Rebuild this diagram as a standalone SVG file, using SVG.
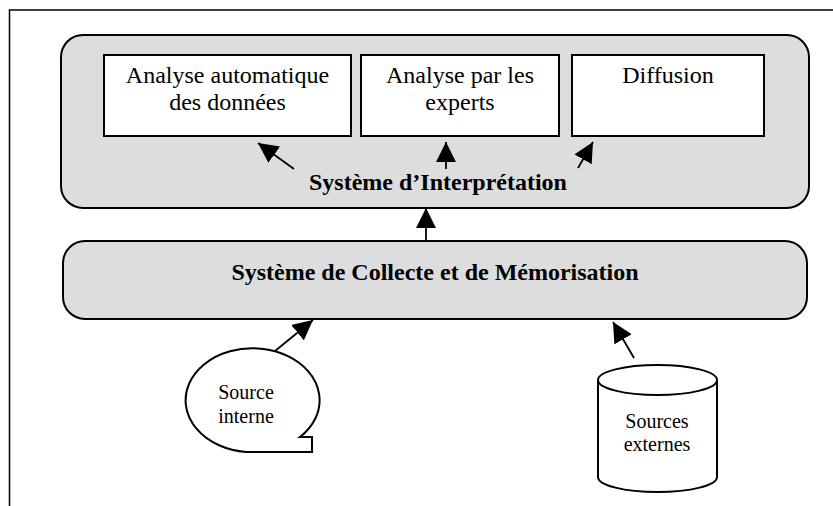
<svg xmlns="http://www.w3.org/2000/svg" width="833" height="506" viewBox="0 0 833 506">
<defs>
<marker id="ah" viewBox="0 0 20 20" refX="20" refY="10" markerWidth="20" markerHeight="20" markerUnits="userSpaceOnUse" orient="auto">
<path d="M0,0 L20,10 L0,20 z" fill="#000"/>
</marker>
<style>
.gray{fill:#dddddd;stroke:#000;stroke-width:2}
.box{fill:#fff;stroke:#000;stroke-width:2}
.shape{fill:#fff;stroke:#000;stroke-width:2}
.t{font-family:"Liberation Serif","Times New Roman",serif;font-size:24px;fill:#000;text-anchor:middle}
.b{font-family:"Liberation Serif","Times New Roman",serif;font-size:24px;font-weight:bold;fill:#000;text-anchor:middle}
.s{font-family:"Liberation Serif","Times New Roman",serif;font-size:20px;fill:#000;text-anchor:middle}
.c{stroke:#000;stroke-width:1.8;fill:none;marker-end:url(#ah)}
</style>
</defs>
<rect width="833" height="506" fill="#fff"/>
<path d="M9.5,506 L9.5,10 L833,10" fill="none" stroke="#000" stroke-width="1.5"/>
<g id="interpretation">
<rect class="gray" x="61" y="35" width="748" height="173" rx="22" ry="22"/>
<text class="b" x="438" y="190">Système d’Interprétation</text>
</g>
<g id="analyse-auto">
<rect class="box" x="104" y="55" width="247" height="81"/>
<text class="t" x="227.5" y="83">Analyse automatique</text>
<text class="t" x="227.5" y="110">des données</text>
</g>
<g id="analyse-experts">
<rect class="box" x="361" y="55" width="198" height="81"/>
<text class="t" x="460" y="83">Analyse par les</text>
<text class="t" x="460" y="110">experts</text>
</g>
<g id="diffusion">
<rect class="box" x="572" y="55" width="192" height="81"/>
<text class="t" x="668" y="83">Diffusion</text>
</g>
<g id="collecte">
<rect class="gray" x="63" y="241" width="744" height="78" rx="22" ry="22"/>
<text class="b" x="435" y="280">Système de Collecte et de Mémorisation</text>
</g>
<g id="source-interne">
<path class="shape" d="M300,437 L312,437 L312,452 L246,452 A67 52 0 1 1 300,437 z"/>
<text class="s" x="246" y="399">Source</text>
<text class="s" x="246" y="423">interne</text>
</g>
<g id="sources-externes">
<path class="shape" d="M598,380 L598,477 A59.5 15 0 0 0 717,477 L717,380 A59.5 15 0 0 0 598,380 z"/>
<path class="shape" d="M598,380 A59.5 15 0 0 0 717,380" fill="none"/>
<text class="s" x="657" y="428">Sources</text>
<text class="s" x="657" y="451">externes</text>
</g>
<g id="connectors">
<line class="c" x1="294" y1="169" x2="258" y2="143"/>
<line class="c" x1="446" y1="169" x2="446" y2="142"/>
<line class="c" x1="578" y1="168" x2="593" y2="142"/>
<line class="c" x1="426" y1="241" x2="426" y2="208"/>
<line class="c" x1="275" y1="351" x2="313" y2="320"/>
<line class="c" x1="634" y1="358" x2="613" y2="322"/>
</g>
</svg>
